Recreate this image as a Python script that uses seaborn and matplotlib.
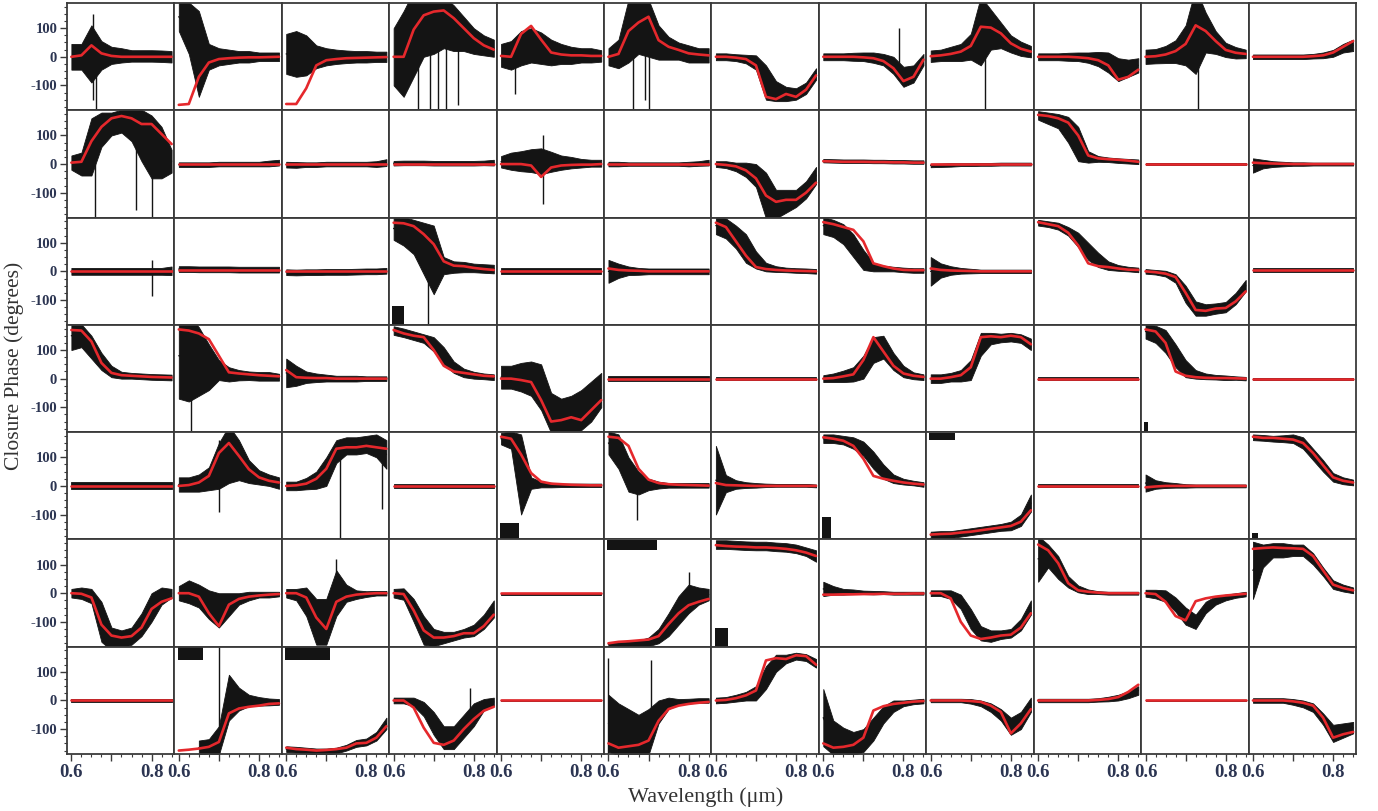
import numpy as np
import matplotlib
matplotlib.use("Agg")
import matplotlib.pyplot as plt
import seaborn as sns
from matplotlib.ticker import FixedLocator, FixedFormatter, MultipleLocator

# ---------------- data ----------------
WAVELENGTH = [0.600, 0.625, 0.650, 0.675, 0.700, 0.725, 0.750, 0.775, 0.800, 0.825, 0.850]
X_TICKS = [0.6, 0.7, 0.8]
X_TICK_LABELS = ["0.6", "", "0.8"]
Y_TICKS = [-100, 0, 100]
Y_TICK_LABELS = ["-100", "0", "100"]

# model closure phase (red), one list per panel, 12 panels per row
MODEL_ROW1 = [
    [0, 5, 40, 12, 3, 0, 0, 0, 0, 0, 0],
    [-168, -165, -70, -20, -8, -5, -3, -2, -2, -1, 0],
    [-165, -165, -110, -30, -12, -8, -5, -4, -3, -2, -1],
    [0, 0, 95, 145, 158, 162, 135, 100, 65, 40, 25],
    [3, 0, 80, 108, 60, 15, 8, 5, 5, 3, 3],
    [0, 10, 90, 120, 140, 58, 35, 24, 12, 8, 5],
    [0, 0, -3, -8, -30, -140, -148, -130, -140, -115, -65],
    [0, 0, 0, 0, -2, -5, -15, -40, -85, -70, -10],
    [2, 5, 10, 18, 38, 105, 102, 82, 47, 28, 18],
    [0, 0, 0, 0, -2, -5, -12, -30, -80, -70, -45],
    [0, 2, 8, 20, 45, 110, 90, 55, 24, 14, 10],
    [0, 0, 0, 0, 0, 0, 2, 5, 15, 35, 55],
]
DATA_ROW1 = [
    [0, 0, 10, 5, 5, 5, 3, 3, 3, 2, 0],
    [140, 100, 10, 0, 0, 0, 0, 0, 0, 0, 0],
    [10, 10, 5, 0, 0, 0, 0, 0, 0, 0, 0],
    [0, 10, 80, 120, 120, 120, 100, 80, 55, 40, 30],
    [5, 5, 30, 40, 30, 15, 10, 5, 5, 5, 3],
    [0, 10, 90, 110, 100, 50, 30, 20, 10, 5, 5],
    [0, 0, -3, -8, -20, -90, -120, -130, -130, -110, -60],
    [0, 0, 0, 0, 0, -3, -10, -30, -70, -60, -10],
    [2, 5, 10, 15, 35, 90, 95, 75, 45, 28, 18],
    [0, 0, 0, 0, 0, -3, -8, -20, -45, -40, -30],
    [0, 2, 8, 18, 40, 90, 85, 50, 24, 14, 10],
    [0, 0, 0, 0, 0, 0, 2, 5, 12, 30, 40],
]
ERROR_ROW1 = [
    [45, 45, 100, 50, 30, 25, 20, 20, 20, 20, 20],
    [50, 90, 150, 45, 30, 25, 20, 20, 15, 15, 15],
    [70, 80, 70, 40, 30, 25, 22, 20, 20, 18, 18],
    [100, 150, 150, 120, 110, 90, 80, 60, 45, 35, 30],
    [40, 50, 60, 60, 55, 45, 35, 30, 25, 25, 20],
    [30, 50, 110, 100, 100, 60, 40, 30, 30, 25, 25],
    [12, 12, 12, 15, 25, 60, 35, 25, 20, 20, 20],
    [12, 12, 12, 14, 15, 18, 20, 30, 35, 30, 20],
    [20, 20, 25, 30, 45, 120, 70, 45, 30, 25, 20],
    [12, 12, 12, 14, 15, 18, 25, 35, 40, 30, 25],
    [25, 25, 30, 40, 70, 150, 70, 40, 25, 20, 15],
    [8, 8, 8, 8, 8, 8, 8, 10, 12, 15, 20],
]

MODEL_ROW2 = [
    [5, 8, 80, 130, 160, 168, 160, 140, 140, 105, 70],
    [0, 0, 0, 0, 0, 0, 0, 0, 0, 0, 0],
    [0, 0, 0, 0, 0, 0, 0, 0, 0, 0, 0],
    [0, 0, 0, 0, 0, 0, 0, 0, 0, 0, 0],
    [0, 0, 0, -5, -45, -12, -5, -3, -2, -2, 0],
    [0, 0, 0, 0, 0, 0, 0, 0, 0, 0, 0],
    [0, -3, -8, -22, -50, -110, -132, -125, -125, -100, -65],
    [10, 9, 8, 8, 8, 7, 7, 6, 6, 5, 5],
    [0, 0, 0, 0, 0, 0, 0, 0, 0, 0, 0],
    [172, 168, 160, 145, 100, 30, 20, 17, 15, 12, 8],
    [0, 0, 0, 0, 0, 0, 0, 0, 0, 0, 0],
    [5, 3, 2, 1, 0, 0, 0, 0, 0, 0, 0],
]
DATA_ROW2 = [
    [5, 0, 60, 120, 140, 150, 140, 100, 60, 40, 10],
    [-2, -2, -2, -2, 0, 0, 0, 0, 0, 2, 5],
    [-2, -3, -2, -2, 0, 0, 0, 0, 0, 0, 5],
    [3, 4, 4, 4, 3, 3, 3, 3, 3, 4, 5],
    [8, 10, 10, 12, 10, 8, 5, 5, 3, 3, 3],
    [0, 0, 0, 0, 0, 0, 0, 0, 0, 2, 5],
    [0, -2, -10, -20, -40, -110, -140, -130, -120, -90, -40],
    [12, 11, 10, 10, 10, 9, 9, 8, 8, 7, 7],
    [-5, -4, -3, -2, -2, -1, -1, 0, 0, 0, 0],
    [170, 160, 150, 120, 70, 25, 18, 15, 12, 10, 8],
    [0, 0, 0, 0, 0, 0, 0, 0, 0, 0, 0],
    [-5, 0, 0, 0, 0, 0, 0, 0, 0, 0, 0],
]
ERROR_ROW2 = [
    [25, 40, 100, 60, 40, 40, 60, 90, 110, 90, 40],
    [8, 8, 8, 8, 8, 8, 8, 8, 8, 10, 10],
    [10, 10, 8, 8, 8, 8, 8, 8, 8, 10, 12],
    [8, 8, 8, 8, 8, 8, 8, 8, 8, 8, 10],
    [20, 30, 35, 40, 45, 35, 25, 20, 15, 12, 12],
    [8, 8, 6, 6, 6, 6, 6, 6, 8, 8, 10],
    [10, 12, 15, 25, 40, 80, 50, 40, 30, 30, 30],
    [6, 6, 6, 6, 6, 6, 6, 6, 6, 6, 6],
    [6, 6, 6, 5, 5, 5, 5, 5, 5, 5, 5],
    [15, 20, 25, 45, 60, 20, 10, 8, 8, 8, 8],
    [4, 4, 4, 4, 4, 4, 4, 4, 4, 4, 4],
    [25, 15, 10, 8, 6, 6, 5, 5, 5, 5, 5],
]

MODEL_ROW3 = [
    [0, 0, 0, 0, 0, 0, 0, 0, 0, 0, 0],
    [3, 3, 3, 3, 3, 3, 3, 3, 3, 3, 3],
    [0, 0, 0, 0, 0, 0, 0, 0, 0, 0, 0],
    [170, 168, 158, 130, 95, 35, 20, 18, 12, 8, 5],
    [0, 0, 0, 0, 0, 0, 0, 0, 0, 0, 0],
    [10, 5, 3, 2, 0, 0, 0, 0, 0, 0, 0],
    [170, 155, 105, 55, 15, 8, 5, 3, 2, 1, 0],
    [172, 165, 155, 145, 105, 28, 18, 10, 5, 4, 4],
    [10, 5, 3, 2, 1, 0, 0, 0, 0, 0, 0],
    [172, 165, 158, 135, 90, 28, 18, 15, 10, 6, 5],
    [0, -3, -8, -20, -75, -135, -138, -130, -128, -105, -70],
    [3, 3, 3, 3, 3, 3, 3, 3, 3, 3, 3],
]
DATA_ROW3 = [
    [0, 0, 0, 0, 0, 0, 0, 0, 0, 0, 2],
    [8, 8, 7, 7, 7, 7, 6, 6, 6, 6, 6],
    [-3, -4, -3, -3, -2, -2, -2, -1, 0, 0, 2],
    [150, 140, 120, 80, 40, 20, 15, 15, 12, 10, 8],
    [0, 0, 0, 0, 0, 0, 0, 0, 0, 0, 0],
    [0, 2, 2, 0, 0, 0, 0, 0, 0, 0, 0],
    [160, 150, 120, 80, 40, 15, 8, 5, 3, 2, 0],
    [160, 150, 130, 90, 40, 15, 10, 8, 5, 3, 3],
    [0, 3, 3, 2, 1, 0, 0, 0, 0, 0, 0],
    [170, 165, 158, 140, 110, 70, 40, 20, 12, 8, 5],
    [0, -3, -8, -25, -80, -130, -135, -130, -125, -95, -50],
    [5, 5, 5, 5, 5, 5, 5, 5, 5, 5, 5],
]
ERROR_ROW3 = [
    [12, 12, 12, 12, 12, 12, 12, 12, 12, 12, 15],
    [10, 10, 10, 10, 10, 10, 10, 10, 10, 10, 10],
    [10, 10, 10, 10, 10, 10, 10, 10, 10, 10, 10],
    [40, 50, 60, 90, 120, 30, 20, 18, 15, 15, 15],
    [10, 10, 10, 10, 10, 10, 10, 10, 10, 10, 10],
    [40, 25, 15, 12, 10, 10, 10, 10, 10, 10, 10],
    [30, 35, 40, 50, 30, 15, 10, 8, 8, 8, 8],
    [30, 30, 35, 40, 35, 15, 10, 8, 8, 8, 8],
    [50, 25, 15, 10, 8, 6, 6, 6, 6, 6, 6],
    [10, 10, 12, 15, 25, 30, 25, 15, 10, 8, 8],
    [8, 8, 10, 15, 30, 25, 20, 18, 18, 20, 20],
    [6, 6, 6, 6, 6, 6, 6, 6, 6, 6, 6],
]

MODEL_ROW4 = [
    [170, 168, 130, 55, 20, 12, 10, 8, 6, 5, 4],
    [172, 168, 158, 138, 80, 22, 18, 15, 12, 10, 8],
    [30, 5, 3, 2, 2, 0, 0, 0, 0, 0, 0],
    [170, 158, 150, 145, 100, 45, 25, 20, 15, 10, 8],
    [0, 0, -5, -12, -75, -150, -145, -135, -145, -110, -75],
    [0, 0, 0, 0, 0, 0, 0, 0, 0, 0, 0],
    [0, 0, 0, 0, 0, 0, 0, 0, 0, 0, 0],
    [0, 2, 8, 15, 65, 145, 95, 45, 18, 10, 6],
    [0, 0, 5, 12, 40, 145, 148, 145, 150, 145, 120],
    [0, 0, 0, 0, 0, 0, 0, 0, 0, 0, 0],
    [172, 165, 125, 25, 10, 5, 3, 2, 2, 1, 0],
    [0, 0, 0, 0, 0, 0, 0, 0, 0, 0, 0],
]
DATA_ROW4 = [
    [150, 150, 110, 60, 25, 12, 10, 8, 6, 5, 4],
    [80, 70, 60, 40, 30, 15, 12, 10, 8, 8, 5],
    [20, 10, 5, 3, 2, 0, 0, 0, 0, 0, 0],
    [168, 160, 150, 140, 120, 80, 40, 20, 12, 8, 5],
    [5, 5, 5, 0, -30, -120, -130, -130, -110, -80, -40],
    [0, 0, 0, 0, 0, 0, 0, 0, 0, 0, 0],
    [0, 0, 0, 0, 0, 0, 0, 0, 0, 0, 0],
    [0, 3, 8, 15, 40, 100, 110, 60, 25, 10, 5],
    [0, 0, 5, 10, 30, 120, 140, 142, 145, 140, 120],
    [0, 0, 0, 0, 0, 0, 0, 0, 0, 0, 0],
    [165, 155, 130, 80, 35, 15, 8, 5, 3, 2, 0],
    [-2, -2, -2, -2, -2, -2, -2, -2, -2, -2, -2],
]
ERROR_ROW4 = [
    [50, 40, 40, 30, 20, 12, 10, 10, 10, 10, 10],
    [150, 150, 120, 80, 35, 25, 18, 15, 15, 15, 12],
    [50, 35, 20, 15, 12, 10, 10, 10, 8, 8, 8],
    [15, 15, 15, 15, 25, 30, 20, 15, 12, 10, 10],
    [40, 40, 50, 60, 80, 70, 60, 70, 70, 70, 60],
    [8, 8, 8, 8, 8, 8, 8, 8, 8, 8, 8],
    [6, 6, 6, 6, 6, 6, 6, 6, 6, 6, 6],
    [12, 15, 20, 25, 40, 45, 40, 30, 20, 12, 10],
    [15, 15, 15, 20, 35, 40, 20, 15, 15, 15, 20],
    [5, 5, 5, 5, 5, 5, 5, 5, 5, 5, 5],
    [25, 30, 40, 40, 30, 15, 10, 8, 8, 6, 6],
    [4, 4, 4, 4, 4, 4, 4, 4, 4, 4, 4],
]

MODEL_ROW5 = [
    [0, 0, 0, 0, 0, 0, 0, 0, 0, 0, 0],
    [0, 3, 12, 35, 115, 150, 105, 58, 30, 18, 12],
    [0, 2, 8, 25, 60, 130, 135, 135, 140, 135, 130],
    [0, 0, 0, 0, 0, 0, 0, 0, 0, 0, 0],
    [172, 165, 110, 45, 15, 8, 6, 4, 3, 2, 2],
    [172, 168, 140, 60, 22, 10, 6, 4, 3, 2, 1],
    [10, 3, 2, 1, 0, 0, 0, 0, 0, 0, 0],
    [170, 165, 158, 140, 95, 35, 25, 18, 12, 8, 5],
    [-170, -168, -167, -163, -160, -155, -150, -145, -140, -125, -85],
    [0, 0, 0, 0, 0, 0, 0, 0, 0, 0, 0],
    [-5, -2, 0, 0, 0, 0, 0, 0, 0, 0, 0],
    [172, 168, 168, 165, 162, 150, 115, 72, 30, 18, 12],
]
DATA_ROW5 = [
    [0, 0, 0, 0, 0, 0, 0, 0, 0, 0, 0],
    [5, 5, 10, 25, 70, 110, 90, 50, 30, 20, 10],
    [0, 0, 8, 20, 50, 120, 140, 140, 145, 140, 110],
    [0, 0, 0, 0, 0, 0, 0, 0, 0, 0, 0],
    [165, 160, 40, 10, 5, 3, 2, 2, 2, 2, 2],
    [150, 120, 40, 10, 5, 3, 2, 2, 2, 2, 2],
    [20, 8, 5, 3, 2, 2, 2, 2, 2, 2, 0],
    [165, 165, 160, 150, 130, 90, 50, 25, 15, 10, 5],
    [-172, -170, -170, -165, -160, -155, -150, -145, -140, -120, -60],
    [0, 0, 0, 0, 0, 0, 0, 0, 0, 0, 0],
    [10, 5, 3, 2, 0, 0, 0, 0, 0, 0, 0],
    [170, 168, 165, 165, 165, 150, 110, 70, 30, 18, 12],
]
ERROR_ROW5 = [
    [12, 12, 12, 12, 12, 12, 12, 12, 12, 12, 12],
    [25, 25, 30, 40, 80, 100, 70, 40, 25, 20, 20],
    [15, 15, 20, 30, 50, 40, 30, 30, 30, 40, 50],
    [8, 8, 8, 8, 8, 8, 8, 8, 8, 8, 8],
    [20, 30, 140, 20, 10, 8, 6, 6, 6, 6, 6],
    [40, 60, 60, 40, 20, 12, 8, 8, 8, 8, 8],
    [120, 30, 15, 10, 8, 6, 5, 5, 5, 5, 5],
    [15, 15, 15, 20, 25, 30, 25, 15, 10, 8, 8],
    [12, 12, 12, 12, 12, 12, 12, 12, 15, 20, 30],
    [5, 5, 5, 5, 5, 5, 5, 5, 5, 5, 5],
    [30, 15, 10, 8, 6, 5, 5, 5, 5, 5, 5],
    [10, 10, 10, 12, 15, 20, 20, 20, 15, 12, 10],
]

MODEL_ROW6 = [
    [0, -2, -15, -110, -148, -155, -150, -120, -55, -30, -18],
    [0, 0, -12, -70, -115, -40, -20, -12, -8, -5, -3],
    [0, 0, -15, -85, -125, -30, -12, -5, -2, 0, 0],
    [0, -3, -60, -130, -155, -155, -150, -140, -140, -115, -75],
    [0, 0, 0, 0, 0, 0, 0, 0, 0, 0, 0],
    [-175, -170, -168, -165, -162, -150, -108, -70, -42, -30, -20],
    [168, 165, 163, 162, 160, 160, 158, 155, 150, 142, 130],
    [-5, -5, -4, -4, -3, -3, -2, -2, -2, -1, -1],
    [0, 0, -18, -100, -148, -160, -155, -148, -145, -120, -70],
    [170, 150, 105, 35, 10, 5, 2, 0, 0, 0, 0],
    [0, -3, -30, -80, -95, -28, -18, -12, -8, -5, -2],
    [155, 158, 160, 158, 157, 155, 130, 80, 30, 18, 10],
]
DATA_ROW6 = [
    [0, 0, -10, -100, -160, -160, -150, -110, -50, -10, 0],
    [0, 5, -10, -40, -60, -40, -20, -10, -5, -5, -3],
    [0, -5, -30, -100, -100, 0, 0, -5, -3, 0, 0],
    [0, -3, -60, -130, -155, -155, -150, -140, -130, -100, -55],
    [-2, -2, -2, -2, -2, -2, -2, -2, -2, -2, -2],
    [-180, -180, -178, -175, -170, -150, -110, -60, -20, -10, -5],
    [170, 170, 168, 166, 165, 165, 162, 160, 155, 145, 130],
    [15, 10, 5, 5, 3, 2, 2, 0, 0, 0, 0],
    [0, 0, -5, -30, -90, -140, -150, -145, -140, -110, -50],
    [120, 130, 90, 40, 15, 5, 2, 0, 0, 0, 0],
    [0, -3, -10, -40, -80, -100, -50, -25, -15, -8, -3],
    [80, 130, 150, 150, 150, 150, 120, 75, 30, 18, 10],
]
ERROR_ROW6 = [
    [15, 20, 25, 70, 40, 30, 30, 40, 50, 30, 15],
    [25, 40, 40, 50, 60, 40, 20, 15, 10, 10, 8],
    [15, 20, 50, 80, 80, 80, 30, 15, 10, 8, 8],
    [15, 20, 40, 50, 30, 20, 15, 15, 20, 25, 30],
    [4, 4, 4, 4, 4, 4, 4, 4, 4, 4, 4],
    [8, 8, 10, 10, 15, 25, 40, 50, 50, 30, 20],
    [15, 15, 15, 15, 15, 15, 15, 15, 15, 15, 20],
    [25, 15, 10, 8, 6, 6, 5, 5, 5, 5, 5],
    [10, 10, 15, 25, 35, 25, 20, 15, 15, 20, 25],
    [80, 40, 40, 20, 12, 8, 5, 5, 5, 5, 5],
    [12, 15, 20, 25, 30, 25, 20, 15, 10, 8, 8],
    [100, 40, 25, 25, 20, 20, 20, 15, 15, 12, 10],
]

MODEL_ROW7 = [
    [0, 0, 0, 0, 0, 0, 0, 0, 0, 0, 0],
    [-175, -172, -168, -162, -145, -45, -28, -22, -18, -12, -10],
    [-165, -170, -172, -175, -173, -170, -165, -150, -148, -130, -90],
    [0, 0, -25, -95, -148, -155, -140, -100, -65, -36, -22],
    [0, 0, 0, 0, 0, 0, 0, 0, 0, 0, 0],
    [-150, -165, -160, -155, -140, -71, -30, -18, -12, -8, -5],
    [0, 2, 8, 18, 35, 140, 148, 145, 158, 155, 125],
    [-150, -165, -162, -155, -130, -35, -20, -12, -8, -4, -2],
    [0, 0, 0, 0, -2, -5, -18, -40, -115, -80, -30],
    [0, 0, 0, 0, 0, 0, 2, 5, 12, 30, 55],
    [0, 0, 0, 0, 0, 0, 0, 0, 0, 0, 0],
    [0, 0, 0, 0, -3, -8, -18, -60, -130, -118, -110],
]
DATA_ROW7 = [
    [0, 0, 0, 0, 0, 0, 0, 0, 0, 0, 0],
    [None, None, -165, -160, -140, 10, 5, 0, -3, -5, -5],
    [-170, -172, -175, -178, -178, -175, -165, -150, -145, -125, -80],
    [0, 0, -5, -30, -80, -130, -130, -90, -50, -15, -5],
    [0, 0, 0, 0, 0, 0, 0, 0, 0, 0, 0],
    [-80, -100, -110, -120, -110, -40, -10, -5, -2, 0, 0],
    [0, 2, 8, 15, 25, 80, 130, 145, 155, 150, 130],
    [-60, -130, -140, -150, -140, -100, -50, -20, -10, -5, -2],
    [0, 0, 0, 0, -3, -10, -25, -50, -90, -70, -15],
    [0, 0, 0, 0, 0, 0, 2, 5, 10, 20, 35],
    [0, 0, 0, 0, 0, 0, 0, 0, 0, 0, 0],
    [0, 0, 0, 0, -5, -12, -25, -65, -115, -105, -95],
]
ERROR_ROW7 = [
    [5, 5, 5, 5, 5, 5, 5, 5, 5, 5, 5],
    [0, 0, 25, 25, 50, 80, 40, 20, 15, 12, 10],
    [10, 10, 10, 10, 10, 10, 10, 12, 12, 15, 20],
    [10, 10, 15, 25, 40, 40, 40, 40, 40, 20, 15],
    [3, 3, 3, 3, 3, 3, 3, 3, 3, 3, 3],
    [100, 90, 80, 70, 80, 40, 20, 10, 8, 8, 8],
    [10, 10, 12, 15, 25, 40, 30, 15, 12, 12, 15],
    [100, 60, 45, 40, 40, 40, 30, 20, 10, 8, 8],
    [6, 6, 6, 6, 8, 10, 15, 20, 30, 30, 25],
    [6, 6, 6, 6, 6, 6, 6, 8, 10, 12, 15],
    [3, 3, 3, 3, 3, 3, 3, 3, 3, 3, 3],
    [8, 8, 8, 8, 10, 12, 15, 20, 30, 25, 20],
]

# single outlying error bars: (row, col, wavelength, low, high)
SPIKES = [
    (0, 0, 0.655, -150, 150), (0, 0, 0.662, -186, 60),
    (0, 3, 0.660, -186, 100), (0, 3, 0.690, -186, 80), (0, 3, 0.710, -186, 50),
    (0, 3, 0.730, -186, 40), (0, 3, 0.760, -170, 60),
    (0, 4, 0.635, -130, 40),
    (0, 5, 0.660, -186, 50), (0, 5, 0.690, -150, 100), (0, 5, 0.700, -186, 60),
    (0, 7, 0.790, -20, 100),
    (0, 8, 0.735, -186, 186), (0, 10, 0.730, -186, 186),
    (1, 0, 0.660, -186, 0), (1, 0, 0.760, -160, 100), (1, 0, 0.800, -186, 80),
    (1, 4, 0.705, -140, 100),
    (2, 0, 0.800, -85, 40), (2, 3, 0.685, -186, 60),
    (3, 1, 0.630, -186, 186),
    (4, 1, 0.700, -90, 160), (4, 2, 0.735, -186, 100), (4, 2, 0.840, -80, 100),
    (4, 5, 0.670, -120, 10),
    (5, 2, 0.725, -20, 120), (5, 5, 0.800, -40, 75),
    (6, 1, 0.700, -186, 186), (6, 3, 0.790, -30, 45),
    (6, 5, 0.705, -100, 140), (6, 5, 0.600, -186, 150),
]

# wrapped-phase data clusters: (row, col, wl_start, wl_end, low, high)
WRAPS = [
    (2, 3, 0.597, 0.625, -186, -120),
    (3, 10, 0.597, 0.606, -186, -150),
    (4, 4, 0.597, 0.645, -186, -130),
    (4, 7, 0.597, 0.620, -186, -110),
    (4, 8, 0.597, 0.660, 160, 186),
    (4, 11, 0.597, 0.612, -186, -165),
    (5, 5, 0.597, 0.720, 150, 186),
    (5, 6, 0.597, 0.630, -186, -120),
    (6, 1, 0.597, 0.660, 140, 186),
    (6, 2, 0.597, 0.710, 140, 186),
]

MODEL_ROWS = [MODEL_ROW1, MODEL_ROW2, MODEL_ROW3, MODEL_ROW4, MODEL_ROW5, MODEL_ROW6, MODEL_ROW7]
DATA_ROWS = [DATA_ROW1, DATA_ROW2, DATA_ROW3, DATA_ROW4, DATA_ROW5, DATA_ROW6, DATA_ROW7]
ERROR_ROWS = [ERROR_ROW1, ERROR_ROW2, ERROR_ROW3, ERROR_ROW4, ERROR_ROW5, ERROR_ROW6, ERROR_ROW7]

# ---------------- style ----------------
sns.set_style("white")
plt.rcParams["font.family"] = ["Liberation Serif", "DejaVu Serif"]
plt.rcParams["axes.unicode_minus"] = False

RED = "#e5282c"
BLACK = "#141414"
SPINE = "#3a3a3a"
TICKCOL = "#2c3552"

NROWS, NCOLS = 7, 12
fig, axes = plt.subplots(NROWS, NCOLS, figsize=(13.78, 8.11), dpi=100)
fig.subplots_adjust(left=0.0486, right=0.984, top=0.9963, bottom=0.0703,
                    wspace=0, hspace=0)

wl = np.array(WAVELENGTH)
for r in range(NROWS):
    for c in range(NCOLS):
        ax = axes[r][c]
        model = np.array(MODEL_ROWS[r][c], dtype=float)
        data = np.array([np.nan if v is None else v for v in DATA_ROWS[r][c]], dtype=float)
        err = np.array(ERROR_ROWS[r][c], dtype=float)

        ax.fill_between(wl, data - err, data + err, color=BLACK, lw=0.6,
                        edgecolor=BLACK, zorder=1)
        sns.lineplot(x=wl, y=data, ax=ax, color=BLACK, lw=1.0, zorder=2)
        for (rr, cc, w0, w1, lo, hi) in WRAPS:
            if rr == r and cc == c:
                ax.fill_between([w0, w1], [lo, lo], [hi, hi], color=BLACK, lw=0, zorder=1)
        for (rr, cc, w, lo, hi) in SPIKES:
            if rr == r and cc == c:
                ax.vlines(w, lo, hi, color=BLACK, lw=1.0, zorder=1)
        sns.lineplot(x=wl, y=model, ax=ax, color=RED, lw=1.9, zorder=3)

        ax.set_xlim(0.589, 0.857)
        ax.set_ylim(-187, 188)
        ax.set_xlabel("")
        ax.set_ylabel("")
        for s in ax.spines.values():
            s.set_color(SPINE)
            s.set_linewidth(1.3)

        if c == 0:
            ax.yaxis.set_major_locator(FixedLocator(Y_TICKS))
            ax.yaxis.set_major_formatter(FixedFormatter(Y_TICK_LABELS))
            ax.yaxis.set_minor_locator(MultipleLocator(25))
            ax.tick_params(axis="y", which="major", direction="out", length=5,
                           width=1.0, color=SPINE, labelsize=10.5, labelcolor=TICKCOL,
                           left=True, pad=2)
            ax.tick_params(axis="y", which="minor", direction="out", length=2.5,
                           width=0.8, color=SPINE, left=True)
            for lab in ax.get_yticklabels():
                lab.set_fontweight("bold")
        else:
            ax.tick_params(axis="y", which="both", left=False, labelleft=False)
            ax.set_yticks([])

        if r == NROWS - 1:
            ax.xaxis.set_major_locator(FixedLocator(X_TICKS))
            ax.xaxis.set_major_formatter(FixedFormatter(X_TICK_LABELS))
            ax.xaxis.set_minor_locator(MultipleLocator(0.025))
            ax.tick_params(axis="x", which="major", direction="out", length=5,
                           width=1.0, color=SPINE, labelsize=13.5, labelcolor=TICKCOL,
                           bottom=True, pad=2)
            ax.tick_params(axis="x", which="minor", direction="out", length=2.5,
                           width=0.8, color=SPINE, bottom=True)
            for lab in ax.get_xticklabels():
                lab.set_fontweight("bold")
        else:
            ax.tick_params(axis="x", which="both", bottom=False, labelbottom=False)
            ax.set_xticks([])

fig.text(0.010, 0.549, "Closure Phase (degrees)", rotation=90, va="center",
         ha="center", fontsize=15.5, color="#333333")
fig.text(0.512, 0.017, "Wavelength (\u03bcm)", va="center", ha="center",
         fontsize=16, color="#333333")

fig.savefig("out.png", dpi=100)
